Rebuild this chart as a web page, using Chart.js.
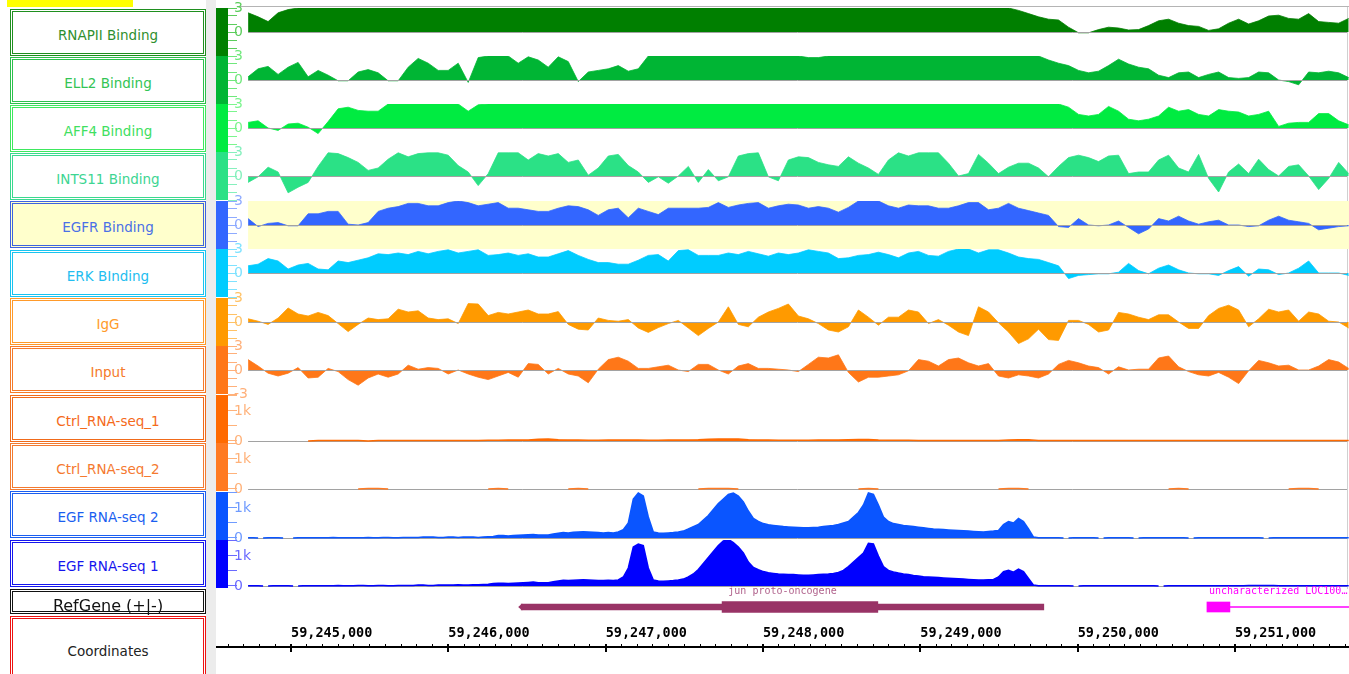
<!DOCTYPE html>
<html>
<head>
<meta charset="utf-8">
<script src="https://cdn.jsdelivr.net/npm/chart.js@4.4.1/dist/chart.umd.min.js"></script>
<style>
  html, body { margin: 0; padding: 0; background: #fff; }
  body { width: 1349px; height: 674px; position: relative; overflow: hidden; font-family: "DejaVu Sans", sans-serif; }
  .box { position: absolute; left: 10px; width: 196px; box-sizing: border-box; border: 3px double; background: #fff;
         display: flex; align-items: center; justify-content: center; font-size: 13.5px; padding-top: 5px; white-space: nowrap; }
  canvas { position: absolute; }
  #sep { position: absolute; left: 206px; top: 0; width: 10px; height: 674px; background: #ececec; }
  #flag { position: absolute; left: 7px; top: 0; width: 126px; height: 7px; background: #ffff00; }
  #topline { position: absolute; left: 237px; top: 6px; width: 1112px; height: 1px; background: #b4b4b4; }
  #rightline { position: absolute; left: 1347px; top: 7px; width: 1px; height: 582px; background: #d0d0d0; }
</style>
</head>
<body>
<div id="flag"></div>
<div id="sep"></div>
<div id="topline"></div>
<div id="rightline"></div>

<script>
// chr1 window shown in the browser
const VIEW_START = 59244523;
const VIEW_END = 59251725;
const BIN_START = 59244727;   // first sampled position of every track
const BIN_STEP = 63.6;        // ChIP tracks and control RNA-seq
const RNA_BIN_STEP = 31.8;    // EGF RNA-seq tracks

const CHIP_TICKS = [-3, -2, -1, 0, 1, 2, 3];
const RNA_TICKS = [0, 500, 1000, 1500];
const COORD_TICKS = [59245000, 59246000, 59247000, 59248000, 59249000, 59250000, 59251000];
const COORD_MINOR = 100;

// ChIP-seq signal (clipped to +/-3)
const rnapii = [
  2.4,1.9,1.3,2.4,2.8,3,3,3,3,3,
  3,3,3,3,3,3,3,3,3,3,
  3,3,3,3,3,3,3,3,3,3,
  3,3,3,3,3,3,3,3,3,3,
  3,3,3,3,3,3,3,3,3,3,
  3,3,3,3,3,3,3,3,3,3,
  3,3,3,3,3,3,3,3,3,3,
  3,3,3,3,3,3,3,2.7,2.3,1.9,
  1.6,1.5,0.6,-0.1,-0.1,0.3,0.6,0.5,0.25,0.3,
  0.8,1.4,1.6,1.1,0.8,0.7,0.2,0.4,1.1,1.6,
  1.0,1.4,2.0,2.1,1.7,1.6,2.3,1.3,1.2,1.1,
  1.7
];
const ell2 = [
  0.4,1.4,1.7,0.7,1.6,2.2,0.4,1.2,0.6,-0.1,
  -0.1,1.0,1.3,0.9,-0.1,-0.1,1.6,2.7,2.1,1.2,
  1.2,2.1,-0.3,2.8,3,3,3,2.1,2.9,2.5,
  1.6,2.9,2.3,-0.2,1.0,1.2,1.4,1.8,1.1,1.4,
  3,3,3,3,3,3,3,3,3,3,
  3,3,3,3,3,3,2.8,2.8,3,3,
  3,3,3,3,3,3,3,3,3,3,
  3,3,3,3,3,3,3,3,3,3,
  2.5,2.1,1.8,1.2,0.9,1.1,1.8,2.6,2.0,1.6,
  1.4,0.6,0.3,0.9,1.0,0.3,0.7,1.0,0.3,0.2,
  0.3,1.0,0.9,0,-0.2,-0.6,1.0,0.9,1.1,0.9,
  0.3
];
const aff4 = [
  0.7,0.9,0,-0.3,0.5,0.6,0.1,-0.7,0.8,2.4,
  2.6,2.2,2.1,2.1,3,3,3,3,3,3,
  3,3,2.1,2.9,3,3,3,3,3,3,
  3,3,3,3,3,3,3,3,3,3,
  3,3,3,3,3,3,3,3,3,3,
  3,3,3,3,3,3,3,3,3,3,
  3,3,3,3,3,3,3,3,3,3,
  3,3,3,3,3,3,3,3,3,3,
  3,3,2.6,1.7,1.5,1.7,2.7,2.1,1.1,0.9,
  1.1,1.5,2.6,2.1,2.3,1.7,1.5,2.3,2.1,2.0,
  1.5,1.7,2.1,0.2,0.6,0.7,0.7,1.8,1.8,0.9,
  0.4
];
const ints11 = [
  -0.8,-0.1,1.1,0.5,-2.1,-1.4,-0.8,1.2,2.9,2.8,
  2.3,1.7,0.7,1.0,2.1,2.9,2.4,2.8,2.9,2.9,
  2.6,1.3,0.5,-1.2,0.3,2.9,2.9,2.9,2.0,2.8,
  2.5,2.8,1.7,2.0,0.1,1.0,2.5,2.7,1.3,0.5,
  -0.8,-0.1,-0.9,0,1.2,-0.8,0.8,-0.6,-0.1,2.5,
  2.8,2.9,-0.1,-0.6,2.0,2.4,2.3,1.7,1.4,1.2,
  2.4,1.6,1.0,0.2,2.0,2.9,2.5,2.9,2.9,2.9,
  1.6,0,0.3,2.7,1.6,0.3,1.1,1.6,1.6,1.0,
  -0.1,1.2,2.3,2.6,2.3,1.8,2.5,2.6,0.3,0.5,
  0.5,2.0,2.6,1.0,0.5,2.7,-0.3,-2.0,0.5,1.5,
  0.3,2.1,0.8,0,1.2,1.4,0,-1.7,-0.3,1.7,
  0.3
];
const egfr = [
  0.8,-0.2,0.2,0.3,-0.1,-0.1,1.4,1.4,1.7,1.7,
  0.1,0,0.3,1.7,2.1,2.3,2.7,2.7,2.4,2.4,
  2.8,3,2.8,2.4,2.6,2.8,2.1,2.1,1.9,1.7,
  1.7,2.1,2.4,2.3,1.9,1.2,1.9,2.1,0.9,2.1,
  1.7,1.3,2.1,2.1,2.1,2.1,2.2,2.8,2.2,2.5,
  2.7,2.8,2.1,2.4,2.6,2.5,2.1,2.3,2.1,1.6,
  2.2,3,3,3,2.4,2.1,2.5,2.4,2.4,2.1,
  2.1,2.4,2.8,2.8,1.9,2.1,2.7,2.1,1.8,1.5,
  1.2,-0.2,-0.3,0.8,0,-0.1,0,0.5,-0.3,-1.1,
  -0.5,0.8,0.5,1.1,0.5,0.1,0.4,0.6,0,0,
  -0.2,-0.1,0.6,1.1,0.6,0.4,0.2,-0.6,-0.4,-0.2,
  -0.1
];
const erk = [
  0.9,1.1,1.8,1.5,0.5,1.0,1.2,0.5,0.4,1.5,
  1.3,1.6,1.9,2.4,2.3,2.5,2.3,2.7,2.4,2.7,
  2.9,2.5,2.7,2.9,2.2,2.3,2.5,2.2,2.4,2.0,
  2.0,2.4,2.8,2.2,1.7,1.3,1.3,1.1,1.1,1.6,
  2.2,2.3,1.5,2.8,2.9,2.2,2.2,2.2,2.5,2.3,
  2.7,2.4,2.1,2.5,2.3,2.5,2.9,2.7,2.5,1.8,
  1.9,2.2,2.3,2.6,2.3,1.9,2.5,2.7,2.2,2.1,
  2.7,3,3,2.5,2.9,2.9,2.5,2.0,1.8,1.7,
  1.3,0.9,-0.7,-0.3,-0.2,-0.1,-0.1,0.1,1.2,0.3,
  -0.1,0.6,1.0,0.4,0,-0.1,-0.1,-0.3,0.3,0.8,
  -0.4,0.5,0.4,-0.2,0,0.6,1.5,0,0,0,
  -0.3
];
const igg = [
  0.4,0.1,-0.3,0.5,1.75,1.0,0.75,1.2,0.8,-0.2,
  -1.2,-0.3,0.5,0.3,0.4,1.6,1.25,1.4,0.5,0.3,
  0.4,-0.2,2.3,2.25,0.8,1.2,1.0,1.25,1.5,1.0,
  1.0,1.3,-0.3,-0.9,-1.0,0.5,0.2,0.1,0.3,-0.75,
  -1.3,-0.7,-0.2,0.2,-0.75,-1.7,-0.8,0,1.9,-0.3,
  -0.6,0.6,1.25,1.7,2.25,0.75,0.4,-0.2,-1.0,-1.25,
  -0.6,1.5,0.6,-0.4,0.6,0.6,1.5,1.25,-0.2,0.3,
  -0.4,-1.25,-1.7,1.9,1.25,-0.1,-1.25,-2.7,-2.1,-0.9,
  -2.2,-2.3,0.2,0.2,-0.3,-1.25,-1.0,1.2,1.0,0.6,
  0.3,0.9,0.9,0,-0.8,-0.8,0.8,1.7,2.1,1.5,
  -0.6,0.4,1.6,1.25,1.5,0.1,1.25,1.0,0.1,0,
  -0.75
];
const input = [
  1.3,0.5,-0.4,-0.75,-0.4,0.3,-1.0,-0.9,0.2,-0.2,
  -1.2,-1.9,-1.0,-0.5,-0.9,-0.5,0.6,0.1,0.3,0.2,
  -0.5,0,-0.5,-0.9,-1.2,-0.75,-0.3,-0.9,0.8,0.7,
  -0.5,0.2,-0.5,-0.75,-1.6,0.1,1.3,1.6,1.1,0.2,
  0.2,0.4,0.6,0,-0.2,0.7,0.7,0,-0.5,0.5,
  0.8,0.2,0.2,0.1,0,-0.2,0.7,1.6,1.5,1.9,
  -0.3,-1.5,-0.9,-0.9,-0.75,-0.6,-0.1,1.3,1.1,0.5,
  1.3,1.5,0.9,0.5,0.8,-0.75,-1.0,-0.6,-0.75,-1.0,
  -0.5,0.7,1.2,0.9,0.5,0.3,-0.5,0.4,0,0.1,
  0.1,1.5,1.75,0.4,-0.2,-0.6,-0.75,-0.3,-0.9,-1.7,
  -0.1,1.2,0.9,0.5,0.6,0,0,0.5,1.3,1.0,
  0.2
];

// RNA-seq coverage (reads)
const ctrlRna1 = [
  0,0,0,0,0,0,0,15,15,15,
  15,15,0,15,15,15,15,15,20,20,
  20,20,20,20,25,25,30,30,30,60,
  70,40,30,30,25,25,30,30,30,30,
  25,25,30,30,30,40,60,70,70,70,
  40,30,30,25,25,25,25,30,30,30,
  40,50,50,30,25,25,25,20,20,20,
  20,20,20,20,20,20,30,40,40,20,
  15,15,15,15,15,15,15,15,15,15,
  15,15,15,15,15,15,15,15,15,15,
  15,15,15,15,15,15,15,15,15,15,
  15
];
const ctrlRna2 = [
  0,0,0,0,0,0,0,0,0,0,
  0,0,15,15,0,0,0,0,0,0,
  0,0,0,0,0,15,0,0,0,0,
  0,0,0,15,0,0,0,0,0,0,
  0,0,0,0,0,0,15,15,15,0,
  0,0,0,0,0,0,0,0,0,0,
  0,0,15,0,0,0,0,0,0,0,
  0,0,0,0,0,0,15,15,0,0,
  0,0,0,0,0,0,0,0,0,0,
  0,0,0,15,0,0,0,0,0,0,
  0,0,0,0,0,15,15,0,0,0,
  0
];
const egfRna2 = [
  10,10,0,0,10,10,10,0,0,0,
  10,10,10,10,10,10,10,20,10,10,
  10,10,10,10,20,10,10,20,20,10,
  10,20,20,20,20,30,30,30,20,20,
  30,30,20,30,30,30,20,30,40,50,
  80,80,70,80,90,100,110,120,100,100,
  100,130,160,180,170,190,200,210,200,190,
  180,170,180,170,200,280,500,1300,1500,1400,
  700,200,170,160,170,180,200,230,300,380,
  450,600,750,950,1150,1300,1450,1500,1400,1200,
  900,650,550,480,440,420,400,380,370,360,
  350,340,340,350,360,380,400,420,450,500,
  550,700,850,1100,1500,1450,1100,700,550,480,
  450,420,400,380,360,340,320,300,290,280,
  270,260,250,240,230,220,210,200,220,230,
  250,450,550,500,650,550,300,30,10,10,
  10,10,10,0,0,10,10,10,10,10,
  0,0,10,10,10,10,10,0,0,10,
  10,10,10,10,10,10,10,10,0,0,
  10,10,10,10,10,10,10,10,10,10,
  10,10,10,0,0,10,10,10,10,10,
  10,10,10,10,10,10,10,10,10,10,
  10
];
const egfRna1 = [
  10,10,10,0,0,10,10,10,10,0,
  0,10,10,10,10,10,10,10,20,10,
  10,10,20,20,10,10,20,20,10,10,
  20,20,20,20,30,30,20,20,30,30,
  30,30,40,30,30,40,40,50,60,80,
  90,90,80,90,100,110,120,130,110,110,
  110,140,170,190,180,190,200,210,200,190,
  180,180,190,180,200,300,600,1300,1400,1350,
  600,200,170,160,170,180,200,230,300,400,
  550,750,950,1150,1350,1500,1550,1450,1300,1100,
  800,620,540,480,440,420,400,390,380,380,
  370,360,360,370,380,390,400,420,450,520,
  650,800,950,1100,1420,1400,1000,650,520,470,
  430,400,380,350,330,310,300,290,280,270,
  260,250,240,230,220,210,200,200,210,220,
  300,480,520,460,560,480,250,30,10,10,
  10,10,10,10,10,0,0,10,10,10,
  10,10,10,10,10,10,10,10,10,10,
  10,10,0,0,10,10,10,10,10,10,
  10,10,10,10,10,10,10,10,10,10,
  20,20,20,20,20,20,10,10,10,10,
  10,10,10,10,10,10,10,10,10,10,
  10
];

// RefGene models
const GENE_NAMES = ['jun proto-oncogene', 'uncharacterized LOC100\u2026'];
const JUN_TX = [59246463, 59249785];
const JUN_CDS = [59247740, 59248730];
const LOC_EXON = [59250822, 59250968];
const LOC_INTRON = [59250968, 59251725];

const tracks = [
  { name: 'RNAPII Binding', values: rnapii, kind: 'chip', top: 8, box: [9, 47],
    fill: '#007f00', tint: '#5ccd5c', edge: '#1f8f1f', text: '#2f8f2f' },
  { name: 'ELL2 Binding', values: ell2, kind: 'chip', top: 56, box: [57, 47],
    fill: '#00b534', tint: '#70e87c', edge: '#2cc04c', text: '#33c455' },
  { name: 'AFF4 Binding', values: aff4, kind: 'chip', top: 104, box: [105, 47],
    fill: '#00eb41', tint: '#7cf58e', edge: '#3ee85e', text: '#40e060' },
  { name: 'INTS11 Binding', values: ints11, kind: 'chip', top: 152, box: [153, 47],
    fill: '#2be186', tint: '#86f0bd', edge: '#3ad98e', text: '#3dd592' },
  { name: 'EGFR Binding', values: egfr, kind: 'chip', top: 201, box: [201, 47],
    fill: '#3366ff', tint: '#8eaaff', edge: '#3d63e0', text: '#4a70e6', shade: '#ffffcc' },
  { name: 'ERK BInding', values: erk, kind: 'chip', top: 249, box: [250, 47],
    fill: '#00ccff', tint: '#7fe2ff', edge: '#19c4f0', text: '#22bdf0' },
  { name: 'IgG', values: igg, kind: 'chip', top: 298, box: [298, 47],
    fill: '#ff9a00', tint: '#ffc266', edge: '#ff9a2a', text: '#ff9a2a' },
  { name: 'Input', values: input, kind: 'chip', top: 346, box: [346, 47], minus: true,
    fill: '#ff7718', tint: '#ffb07a', edge: '#f57a2a', text: '#f57a2a' },
  { name: 'Ctrl_RNA-seq_1', values: ctrlRna1, kind: 'rna', step: BIN_STEP, top: 395, box: [395, 47],
    fill: '#ff6a00', tint: '#ffb27a', edge: '#f06a1a', text: '#f56a1a' },
  { name: 'Ctrl_RNA-seq_2', values: ctrlRna2, kind: 'rna', step: BIN_STEP, top: 443, box: [443, 47],
    fill: '#ff7a22', tint: '#ffb27a', edge: '#f37a30', text: '#f57a30' },
  { name: 'EGF RNA-seq 2', values: egfRna2, kind: 'rna', step: RNA_BIN_STEP, top: 492, box: [491, 47],
    fill: '#0a55ff', tint: '#6f9bff', edge: '#1a5ef0', text: '#1a5ef0' },
  { name: 'EGF RNA-seq 1', values: egfRna1, kind: 'rna', step: RNA_BIN_STEP, top: 540, box: [540, 47],
    fill: '#0000ff', tint: '#6a6aff', edge: '#1515ee', text: '#1515ee' }
];

const CANVAS_LEFT = 216;
const CANVAS_W = 1133;
const AXIS_W = 21;
const TRACK_MIN = VIEW_START + (VIEW_END - VIEW_START) * AXIS_W / CANVAS_W;
const PAD = 8;

// colour strip, shading and zero line of each track
const trackDecor = {
  id: 'trackDecor',
  beforeDraw(chart, args, opts) {
    const { ctx, chartArea: a, scales: { x } } = chart;
    ctx.save();
    ctx.fillStyle = opts.strip;
    ctx.fillRect(0, a.top, 12, a.bottom - a.top);
    if (opts.shade) {
      const x0 = x.getPixelForValue(BIN_START);
      ctx.fillStyle = opts.shade;
      ctx.fillRect(x0, a.top, a.right - x0, a.bottom - a.top);
    }
    ctx.restore();
  },
  beforeDatasetsDraw(chart, args, opts) {
    if (!opts.lineOnTop) drawZero(chart);
  },
  afterDatasetsDraw(chart, args, opts) {
    if (opts.lineOnTop) drawZero(chart);
  }
};

function drawZero(chart) {
  const { ctx, chartArea: a, scales: { x, y } } = chart;
  const y0 = Math.round(y.getPixelForValue(0)) + 0.5;
  ctx.save();
  ctx.strokeStyle = '#a2a2a2';
  ctx.lineWidth = 1;
  ctx.beginPath();
  ctx.moveTo(x.getPixelForValue(BIN_START), y0);
  ctx.lineTo(a.right - 2, y0);
  ctx.stroke();
  ctx.restore();
}

function addBox(label, top, height, edge, color, bg, size, padTop) {
  const d = document.createElement('div');
  d.className = 'box';
  d.textContent = label;
  d.style.top = top + 'px';
  d.style.height = height + 'px';
  d.style.borderColor = edge;
  d.style.color = color;
  if (bg) d.style.background = bg;
  if (size) d.style.fontSize = size;
  if (padTop !== undefined) d.style.paddingTop = padTop + 'px';
  document.body.appendChild(d);
  return d;
}

function addCanvas(top, height) {
  const cv = document.createElement('canvas');
  cv.width = CANVAS_W;
  cv.height = height;
  cv.style.left = CANVAS_LEFT + 'px';
  cv.style.top = top + 'px';
  document.body.appendChild(cv);
  return cv;
}

function makeTrack(t) {
  const rna = t.kind === 'rna';
  const step = rna ? t.step : BIN_STEP;
  const cv = addCanvas(t.top - PAD, 48 + 2 * PAD);
  const pts = t.values.map((v, i) => ({ x: BIN_START + i * step, y: v }));
  const labels = rna ? { 1000: '1k', 0: '0' } : (t.minus ? { 3: '3', 0: '0', '-3': '-3' } : { 3: '3', 0: '0' });

  new Chart(cv, {
    type: 'line',
    data: {
      datasets: [{
        data: pts,
        fill: 'origin',
        backgroundColor: t.fill,
        borderColor: t.fill,
        borderWidth: rna ? 1.5 : 0.8,
        pointRadius: 0,
        tension: 0,
        segment: rna ? {
          borderColor: c => (c.p0.parsed.y > 0 || c.p1.parsed.y > 0) ? t.fill : 'rgba(0,0,0,0)'
        } : {}
      }]
    },
    options: {
      responsive: false,
      animation: false,
      events: [],
      layout: { padding: { top: PAD, bottom: PAD, left: 0, right: 0 } },
      plugins: {
        legend: { display: false },
        tooltip: { enabled: false },
        trackDecor: { strip: t.fill, shade: t.shade, lineOnTop: !rna }
      },
      scales: {
        x: { type: 'linear', min: TRACK_MIN, max: VIEW_END, display: false },
        y: {
          min: rna ? -67 : -3,
          max: rna ? 1533 : 3,
          afterBuildTicks: s => { s.ticks = (rna ? RNA_TICKS : CHIP_TICKS).map(v => ({ value: v })); },
          afterFit: s => { s.width = AXIS_W; s.paddingTop = 0; s.paddingBottom = 0; },
          border: { display: false },
          grid: { drawOnChartArea: false, drawTicks: true, tickLength: 9, tickColor: t.tint, tickWidth: 1 },
          ticks: {
            mirror: true, padding: -3, autoSkip: false, color: t.tint,
            font: { family: 'DejaVu Sans', size: 14 },
            callback: v => labels[v] || ''
          }
        }
      }
    },
    plugins: [trackDecor]
  });

  addBox(t.name, t.box[0], t.box[1], t.edge, t.text, t.shade);
}

tracks.forEach(makeTrack);

// RefGene track: thin UTR / intron bars and thick coding blocks
const geneLabels = {
  id: 'geneLabels',
  afterDatasetsDraw(chart) {
    const { ctx, scales: { x } } = chart;
    const yc = 22;
    ctx.save();
    // strand arrow at the 5' end of jun (minus strand)
    const xa = x.getPixelForValue(JUN_TX[0]);
    ctx.fillStyle = '#993366';
    ctx.beginPath();
    ctx.moveTo(xa - 3, yc);
    ctx.lineTo(xa + 1, yc - 3.5);
    ctx.lineTo(xa + 1, yc + 3.5);
    ctx.closePath();
    ctx.fill();
    ctx.font = '10px "DejaVu Sans Mono"';
    ctx.textBaseline = 'middle';
    ctx.textAlign = 'center';
    ctx.fillStyle = '#b0628c';
    ctx.fillText(GENE_NAMES[0], (x.getPixelForValue(JUN_TX[0]) + x.getPixelForValue(JUN_TX[1])) / 2, 6);
    ctx.textAlign = 'left';
    ctx.fillStyle = '#ff00ff';
    ctx.fillText(GENE_NAMES[1], x.getPixelForValue(LOC_EXON[0]) + 2, 6);
    ctx.restore();
  }
};

new Chart(addCanvas(585, 44), {
  type: 'bar',
  data: {
    labels: ['RefGene'],
    datasets: [
      { data: [JUN_TX], backgroundColor: '#993366', barThickness: 6, grouped: false },
      { data: [JUN_CDS], backgroundColor: '#993366', barThickness: 11, grouped: false },
      { data: [LOC_INTRON], backgroundColor: '#ff00ff', barThickness: 1, grouped: false },
      { data: [LOC_EXON], backgroundColor: '#ff00ff', barThickness: 10, grouped: false }
    ]
  },
  options: {
    indexAxis: 'y',
    responsive: false,
    animation: false,
    events: [],
    layout: { padding: 0 },
    plugins: { legend: { display: false }, tooltip: { enabled: false } },
    scales: {
      x: { type: 'linear', min: VIEW_START, max: VIEW_END, display: false },
      y: { display: false }
    }
  },
  plugins: [geneLabels]
});

// coordinate ruler: minor ticks every 100 bp, labelled ticks every kb
const isMajor = v => COORD_TICKS.includes(v);
new Chart(addCanvas(616, 56), {
  type: 'line',
  data: { datasets: [] },
  options: {
    responsive: false,
    animation: false,
    events: [],
    layout: { padding: { top: 0, bottom: 20, left: 0, right: 0 } },
    plugins: { legend: { display: false }, tooltip: { enabled: false } },
    scales: {
      x: {
        type: 'linear',
        position: 'top',
        min: VIEW_START,
        max: VIEW_END,
        afterBuildTicks: s => {
          const ticks = [];
          for (let v = Math.ceil(VIEW_START / COORD_MINOR) * COORD_MINOR; v <= VIEW_END; v += COORD_MINOR) {
            ticks.push({ value: v });
          }
          s.ticks = ticks;
        },
        afterFit: s => { s.height = 31; },
        border: { display: true, color: '#000', width: 2 },
        grid: {
          drawOnChartArea: true,
          drawTicks: true,
          tickLength: 3,
          tickColor: '#000',
          color: c => (c.tick && isMajor(c.tick.value)) ? '#000' : 'rgba(0,0,0,0)',
          lineWidth: c => (c.tick && isMajor(c.tick.value)) ? 2 : 1
        },
        ticks: {
          autoSkip: false,
          maxRotation: 0,
          minRotation: 0,
          align: 'start',
          padding: 2,
          color: '#000',
          font: { family: 'DejaVu Sans Mono', weight: 'bold', size: 13.5 },
          callback: v => isMajor(v) ? v.toLocaleString('en-US') : ''
        }
      },
      y: { display: false }
    }
  }
});

addBox('RefGene (+|-)', 589, 25, '#111', '#111', null, '16px', 8);
addBox('Coordinates', 616, 70, '#ee1111', '#222', null, '13.5px', 0);
</script>
</body>
</html>
